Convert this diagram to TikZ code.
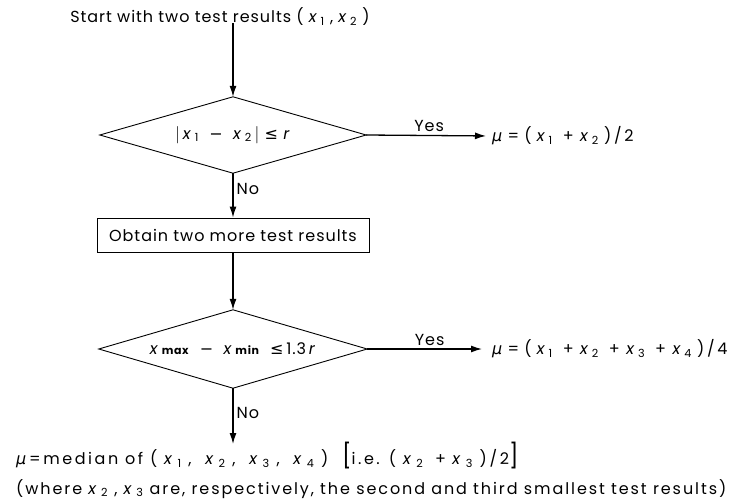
\documentclass[tikz,border=0pt]{standalone}
\usepackage{fontspec}
\setmainfont{Poppins}[LetterSpace=6]
\newfontfamily\widef{Poppins}[LetterSpace=12]
\newfontfamily\widerf{Poppins}[LetterSpace=16]
\newfontfamily\symf{DejaVu Sans}
\usetikzlibrary{arrows.meta}
\newcommand\vx[1]{\textit{x}\,\textsubscript{#1}}
\newcommand\mmu{{\symf\itshape μ}}
\newcommand\smin{{\symf −}}
\newcommand\sle{{\symf ≤}}
\newcommand\splus{\hspace{0.3em}+\hspace{0.4em}}
\tikzset{
  txt/.style={inner sep=0pt},
  decarea/.style={inner sep=0pt},
  decline/.style={line width=0.9pt, line join=miter},
  procbox/.style={draw, rectangle, line width=0.9pt, minimum width=272pt, minimum height=34pt, inner sep=0pt},
  arr/.style={line width=1.3pt, -{Latex[length=11pt,width=7pt]}},
  lab/.style={inner sep=3pt}
}
\begin{document}
\begin{tikzpicture}[x=1pt,y=-1pt,font=\fontsize{16}{18}\selectfont]
\useasboundingbox (0,0) rectangle (744,503);
\node[txt] (start) at (220,17) {Start with two test results ( \vx1 , \vx2 )};
\node[decarea, minimum width=266pt, minimum height=76pt] (d1) at (233,135) {$\big|$\,\vx1 \ \smin\ \ \vx2\,$\big|$\ \sle\ \textit{r}};
\draw[decline] (d1.north) -- (d1.east) -- (d1.south) -- (d1.west) -- cycle;
\node[procbox] (b) at (233,235) {Obtain two more test results};
\node[decarea, minimum width=268pt, minimum height=78pt] (d2) at (233,349) {\textit{x}\,{\fontsize{11}{12}\selectfont\textbf{max}} \ \smin\ \ \textit{x}\,{\fontsize{11}{12}\selectfont\textbf{min}}\ \ \sle\,1.3\,\textit{r}};
\draw[decline] (d2.north) -- (d2.east) -- (d2.south) -- (d2.west) -- cycle;
\node[txt, anchor=west] (r1) at (492,136) {\mmu\ = ( \vx1 \splus \vx2 )\,/\,2};
\node[txt, anchor=west] (r2) at (492,349) {\mmu\ = ( \vx1 \splus \vx2 \splus \vx3 \splus \vx4 )\,/\,4};
\node[txt, anchor=west] (med) at (16,456) {\widerf\mmu\,=\,median of ( \vx1 , \ \vx2 , \ \vx3 , \ \vx4 ) \ \scalebox{1.4}[1.5]{[}i.e. ( \vx2 \splus \vx3 )\,/\,2\scalebox{1.4}[1.5]{]}};
\node[txt, anchor=west] (note) at (16,489) {\widef (where \vx2 , \vx3 are, respectively, the second and third smallest test results)};
\coordinate (medtop) at (233,444);
\draw[arr] (start.south -| d1.north) ++(0,-3) -- (d1.north);
\draw[arr] (d1.south) -- node[lab, right, pos=0.35] {No} (b.north);
\draw[arr] (b.south) -- (d2.north);
\draw[arr] (d2.south) -- node[lab, right, pos=0.45] {No} (medtop);
\draw[arr, shorten >=6pt] (d1.east) -- node[lab, above] {Yes} (r1.west);
\draw[arr, shorten >=10pt] (d2.east) -- node[lab, above] {Yes} (r2.west);
\end{tikzpicture}
\end{document}
